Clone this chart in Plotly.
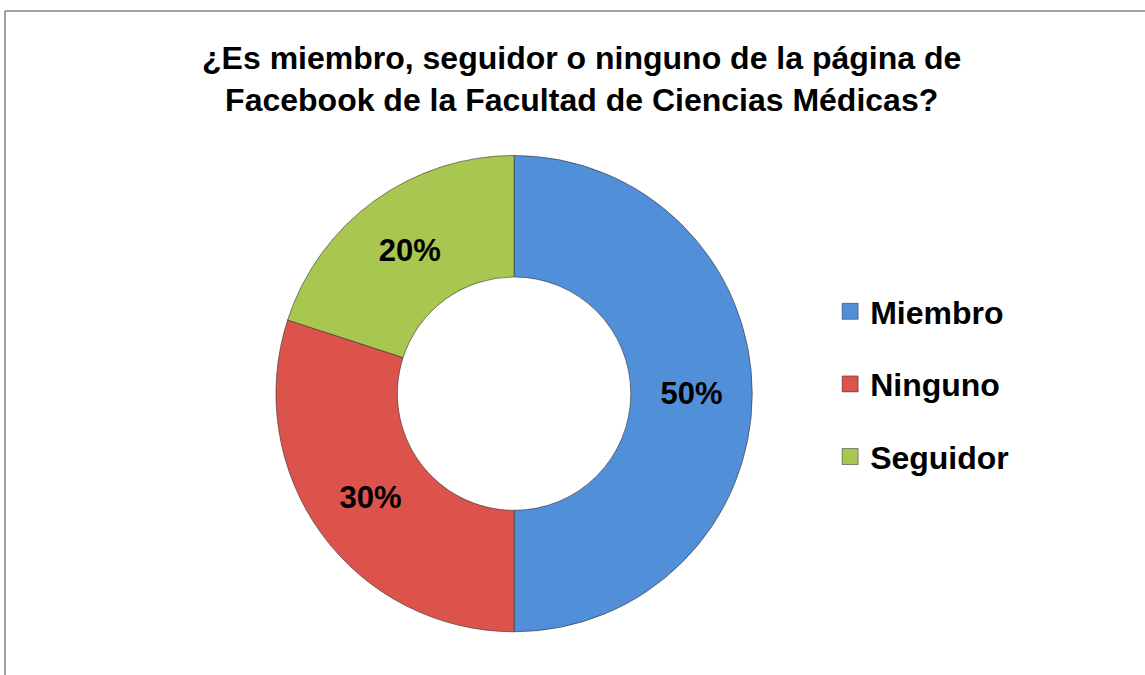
import plotly.graph_objects as go

# Données
labels = ["Miembro", "Ninguno", "Seguidor"]
values = [50, 30, 20]
colors = ["#5190D8", "#DC534C", "#A8C650"]

TITLE = "¿Es miembro, seguidor o ninguno de la página de<br>Facebook de la Facultad de Ciencias Médicas?"
FONT = "Liberation Sans, Arial, sans-serif"
W, H = 1145, 675

fig = go.Figure()

fig.add_trace(go.Pie(
    labels=labels,
    values=values,
    hole=0.49,
    sort=False,
    direction="clockwise",
    rotation=0,
    marker=dict(colors=colors, line=dict(color="rgba(50,50,50,0.6)", width=1)),
    textinfo="percent",
    textposition="inside",
    insidetextorientation="horizontal",
    textfont=dict(family=FONT, size=31, color="black", weight="bold"),
    showlegend=False,
    domain=dict(x=[0.241, 0.657], y=[0.0637, 0.770]),
))

# Légende : carrés séparés pour garder l'espacement
for lab, col in zip(labels, colors):
    fig.add_trace(go.Scatter(
        x=[None], y=[None],
        mode="markers",
        marker=dict(symbol="square", size=16, color=col,
                    line=dict(color="rgba(40,40,40,0.5)", width=1)),
        name=lab,
        legendgroup=lab,
    ))

fig.update_layout(
    title=dict(
        text=TITLE,
        font=dict(family=FONT, size=32, color="black", weight="bold"),
        x=0.508, xanchor="center",
        y=1 - 69 / H, yanchor="middle",
    ),
    legend=dict(
        x=0.725, xanchor="left",
        y=1 - 284 / H, yanchor="top",
        font=dict(family=FONT, size=32, color="black", weight="bold"),
        tracegroupgap=28,
        bgcolor="rgba(0,0,0,0)",
    ),
    xaxis=dict(visible=False),
    yaxis=dict(visible=False),
    shapes=[
        dict(type="line", xref="paper", yref="paper",
             x0=5 / W, y0=1 - 11 / H, x1=1, y1=1 - 11 / H,
             line=dict(color="#A0A0A0", width=2)),
        dict(type="line", xref="paper", yref="paper",
             x0=5 / W, y0=1 - 11 / H, x1=5 / W, y1=0,
             line=dict(color="#A0A0A0", width=2)),
    ],
    margin=dict(l=0, r=0, t=0, b=0),
    plot_bgcolor="white", paper_bgcolor="white",
    width=W, height=H,
)

# marge par défaut du body (8px) supprimée
fig.write_html("out.html", config={"displayModeBar": False},
               post_script="document.body.style.margin='0';")
